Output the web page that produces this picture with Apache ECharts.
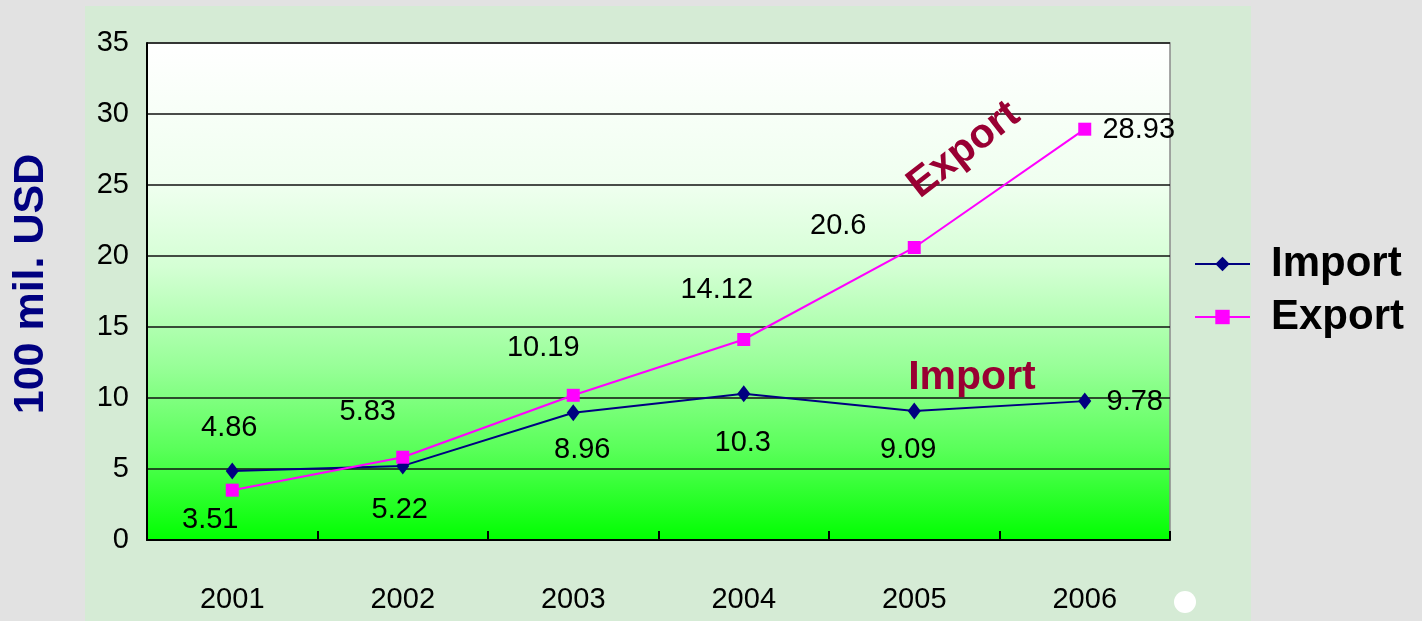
<!DOCTYPE html>
<html>
<head>
<meta charset="utf-8">
<script src="https://cdn.jsdelivr.net/npm/echarts@6/dist/echarts.min.js"></script>
<style>
  html, body { margin: 0; padding: 0; background: #e2e2e2; }
  #chart { width: 1422px; height: 621px; }
</style>
</head>
<body>
<div id="chart"></div>
<script>
// 数据
const years = ['2001', '2002', '2003', '2004', '2005', '2006']
const importValues = [4.86, 5.22, 8.96, 10.3, 9.09, 9.78]
const exportValues = [3.51, 5.83, 10.19, 14.12, 20.6, 28.93]
const yTicks = [0, 5, 10, 15, 20, 25, 30, 35]

// label offsets (px) relative to each marker
const importLabelOffsets = [[-3, -43], [-3, 44], [9, 37], [-1, 49], [-6, 39], [50, 1]]
const exportLabelOffsets = [[-22, 30], [-35, -45], [-30, -47], [-27, -49], [-76, -21], [54, 1]]

const chart = echarts.init(document.getElementById('chart'))
const font = 'Arial, "Liberation Sans", sans-serif'

function withLabels(values, offsets) {
  return values.map((v, i) => ({
    value: v,
    label: { offset: offsets[i] }
  }))
}

const option = {
  backgroundColor: '#e2e2e2',
  animation: false,
  textStyle: { fontFamily: font },
  graphic: [
    // 绿色底板
    { type: 'rect', z: -10, shape: { x: 85, y: 6, width: 1166, height: 615 }, style: { fill: '#d5ebd5' } },
    { type: 'circle', z: -5, shape: { cx: 1185, cy: 602, r: 11 }, style: { fill: '#ffffff' } },
    {
      type: 'text', x: 31, y: 284, rotation: Math.PI / 2,
      style: { text: '100 mil. USD', fill: '#000080', font: 'bold 43px ' + font, align: 'center', verticalAlign: 'middle' }
    },
    {
      type: 'text', x: 964, y: 150, rotation: 38 * Math.PI / 180, z: 20,
      style: { text: 'Export', fill: '#990033', font: 'bold 41px ' + font, align: 'center', verticalAlign: 'middle' }
    },
    {
      type: 'text', x: 972, y: 378, z: 20,
      style: { text: 'Import', fill: '#990033', font: 'bold 41px ' + font, align: 'center', verticalAlign: 'middle' }
    }
  ],
  legend: [
    {
      data: ['Import'], left: 1189, top: 238, orient: 'vertical',
      itemWidth: 55, itemHeight: 18, itemGap: 20,
      textStyle: { fontSize: 42, fontWeight: 'bold', color: '#000', padding: [0, 0, 0, 16] }
    },
    {
      data: ['Export'], left: 1189, top: 291, orient: 'vertical',
      itemWidth: 55, itemHeight: 18, itemGap: 20,
      textStyle: { fontSize: 42, fontWeight: 'bold', color: '#000', padding: [0, 0, 0, 16] }
    }
  ],
  grid: {
    left: 147, right: 252, top: 43, bottom: 81,
    show: true,
    borderColor: '#8a8a8a',
    borderWidth: 1.5,
    backgroundColor: new echarts.graphic.LinearGradient(0, 0, 0, 1, [
      { offset: 0, color: '#ffffff' },
      { offset: 0.28, color: '#f0fff0' },
      { offset: 0.45, color: '#d4ffd4' },
      { offset: 0.65, color: '#98ff98' },
      { offset: 0.82, color: '#58ff58' },
      { offset: 1, color: '#00ff00' }
    ])
  },
  xAxis: {
    type: 'category',
    data: years,
    boundaryGap: true,
    axisLine: { lineStyle: { color: '#000', width: 2 } },
    axisTick: { show: true, inside: true, length: 9, lineStyle: { color: '#000', width: 2 } },
    axisLabel: { fontSize: 29, color: '#000', margin: 45, fontFamily: font }
  },
  yAxis: {
    type: 'value',
    min: yTicks[0],
    max: yTicks[yTicks.length - 1],
    interval: yTicks[1] - yTicks[0],
    axisLine: { show: true, lineStyle: { color: '#000', width: 2 } },
    axisTick: { show: false },
    axisLabel: { fontSize: 29, color: '#000', margin: 18, fontFamily: font },
    splitLine: { lineStyle: { color: '#111', width: 1.5 } }
  },
  series: [
    {
      name: 'Import',
      type: 'line',
      data: withLabels(importValues, importLabelOffsets),
      symbol: 'diamond',
      symbolSize: [13, 17],
      itemStyle: { color: '#000080' },
      lineStyle: { color: '#000080', width: 2 },
      label: { show: true, position: 'inside', fontSize: 29, color: '#000', fontFamily: font },
      z: 3
    },
    {
      name: 'Export',
      type: 'line',
      data: withLabels(exportValues, exportLabelOffsets),
      symbol: 'rect',
      symbolSize: 13,
      itemStyle: { color: '#ff00ff' },
      lineStyle: { color: '#ff00ff', width: 2 },
      label: { show: true, position: 'inside', fontSize: 29, color: '#000', fontFamily: font },
      z: 4
    }
  ]
}

chart.setOption(option)
window.addEventListener('resize', () => chart.resize())
</script>
</body>
</html>
